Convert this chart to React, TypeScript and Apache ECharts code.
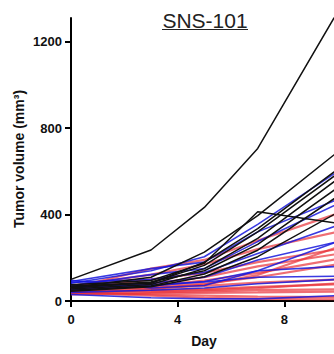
import React, { useEffect, useRef } from "react";
import * as echarts from "echarts";

const days = [0, 3, 5, 7, 10];
const xTicks = [0, 4, 8];
const yTicks = [0, 400, 800, 1200];

const blackSeries: number[][] = [
  [100, 236, 433, 706, 1340],
  [75, 95, 175, 413, 360],
  [62, 110, 226, 395, 690],
  [70, 82, 180, 335, 610],
  [55, 76, 150, 290, 565],
  [66, 88, 140, 262, 525],
  [50, 70, 125, 235, 485],
  [60, 86, 165, 320, 590],
  [45, 66, 112, 205, 410],
];

const blueSeries: number[][] = [
  [82, 140, 205, 355, 600],
  [90, 150, 180, 320, 470],
  [72, 122, 150, 275, 450],
  [86, 100, 132, 220, 350],
  [60, 82, 110, 190, 275],
  [52, 70, 90, 140, 160],
  [66, 75, 88, 110, 115],
  [40, 50, 60, 80, 100],
  [30, 15, 10, 10, 25],
  [96, 60, 72, 140, 275],
];

const redSeries: number[][] = [
  [60, 150, 190, 280, 405],
  [70, 122, 170, 240, 320],
  [55, 100, 130, 180, 240],
  [50, 82, 110, 160, 218],
  [45, 70, 95, 130, 195],
  [65, 60, 70, 85, 100],
  [40, 50, 55, 65, 78],
  [35, 40, 45, 50, 54],
  [30, 35, 38, 40, 44],
  [55, 45, 50, 60, 82],
  [75, 66, 80, 110, 170],
  [42, 30, 25, 20, 18],
  [48, 56, 76, 120, 250],
  [38, 25, 15, 10, 8],
];

export default function App() {
  const ref = useRef<HTMLDivElement>(null);
  useEffect(() => {
    if (!ref.current) return;
    const chart = echarts.init(ref.current, undefined, { renderer: "svg" });
    const mk = (vals: number[], color: string, width: number) => ({
      type: "line" as const,
      data: days.map((d, i) => [d, vals[i]]),
      symbol: "none",
      clip: true,
      lineStyle: { color, width },
      z: 2,
    });
    const series = [
      ...redSeries.map((v) => mk(v, "rgba(232,48,56,0.7)", 2.2)),
      ...blueSeries.map((v) => mk(v, "rgba(24,24,220,0.85)", 1.6)),
      ...blackSeries.map((v) => mk(v, "#111", 1.5)),
    ];
    const font = "Liberation Sans, Arial, sans-serif";
    chart.setOption({
      animation: false,
      grid: { left: 71, top: 18, bottom: 53, right: 0, containLabel: false },
      xAxis: {
        type: "value",
        min: 0,
        max: 9.86,
        splitLine: { show: false },
        axisLine: { onZero: false, lineStyle: { color: "#000", width: 2 } },
        axisTick: { show: true, length: 6, lineStyle: { color: "#000", width: 2 }, customValues: xTicks },
        axisLabel: {
          customValues: xTicks,
          formatter: (v: number) => String(v),
          margin: 12,
          color: "#111",
          fontSize: 13,
          fontWeight: "bold",
          fontFamily: font,
        },
      },
      yAxis: {
        type: "value",
        min: 0,
        max: 1310,
        splitLine: { show: false },
        axisLine: { show: true, lineStyle: { color: "#000", width: 2 } },
        axisTick: { show: true, length: 6, lineStyle: { color: "#000", width: 2 }, customValues: yTicks },
        axisLabel: {
          customValues: yTicks,
          formatter: (v: number) => String(v),
          margin: 9,
          color: "#111",
          fontSize: 13,
          fontWeight: "bold",
          fontFamily: font,
        },
      },
      graphic: [
        {
          type: "text",
          x: 205,
          y: 20,
          style: {
            text: "SNS-101",
            fontSize: 21,
            fontFamily: font,
            fill: "#222",
            align: "center",
            verticalAlign: "middle",
          },
        },
        {
          type: "line",
          shape: { x1: 162, y1: 29.5, x2: 248, y2: 29.5 },
          style: { stroke: "#222", lineWidth: 1.2 },
        },
        {
          type: "text",
          x: 19,
          y: 159,
          rotation: Math.PI / 2,
          style: {
            text: "Tumor volume (mm³)",
            fontSize: 14,
            fontWeight: "bold",
            fontFamily: font,
            fill: "#111",
            align: "center",
            verticalAlign: "middle",
          },
        },
        {
          type: "text",
          x: 204,
          y: 341,
          style: {
            text: "Day",
            fontSize: 14,
            fontWeight: "bold",
            fontFamily: font,
            fill: "#111",
            align: "center",
            verticalAlign: "middle",
          },
        },
      ],
      series,
    });
    return () => chart.dispose();
  }, []);
  return (
    <div
      ref={ref}
      style={{ position: "fixed", left: 0, top: 0, width: 334, height: 354, background: "#fff" }}
    />
  );
}
